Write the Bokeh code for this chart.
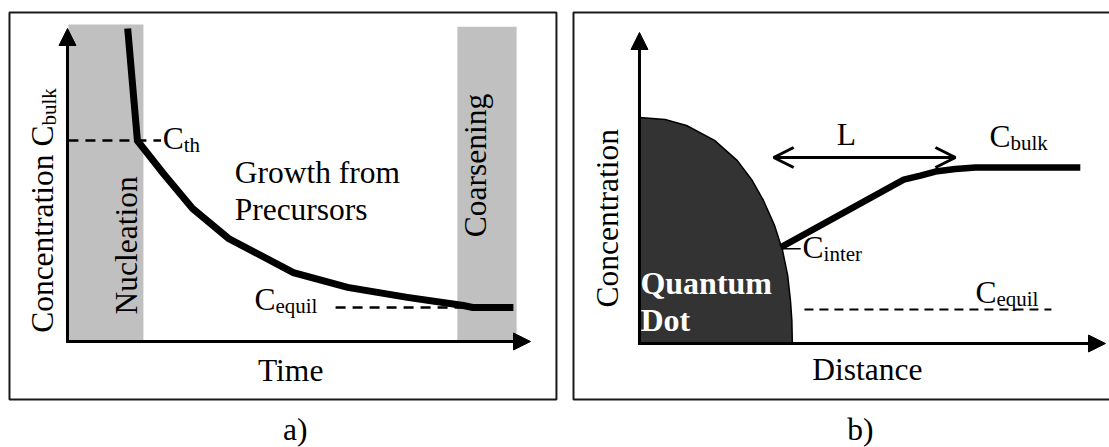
import math
from bokeh.plotting import figure
from bokeh.layouts import row
from bokeh.models import Range1d, Arrow, NormalHead, OpenHead, BoxAnnotation
from bokeh.embed import file_html
from bokeh.resources import INLINE
from bokeh.core.properties import value

# ---------------- data: panel a (concentration vs time) ----------------
time_curve = [1.30, 1.51, 2.07, 2.70, 3.48, 4.88, 6.05, 7.34, 8.55, 8.75, 9.63]
conc_curve = [10.0, 6.42, 5.37, 4.25, 3.29, 2.20, 1.73, 1.41, 1.15, 1.09, 1.09]
c_th = 6.42
c_equil_a = 1.09
phase_names = ["Nucleation", "Coarsening"]
phase_start = [0.02, 8.42]
phase_end = [1.64, 9.70]
phase_top = [10.13, 10.06]

# ---------------- data: panel b (concentration vs distance) ----------------
dot_d = [0.0, 0.55, 1.01, 1.61, 2.10, 2.42, 2.66, 2.90, 3.07, 3.18, 3.24, 3.27, 3.28]
dot_c = [7.27, 7.20, 7.01, 6.53, 5.88, 5.24, 4.60, 3.79, 2.99, 2.19, 1.38, 0.74, 0.0]
dist_curve = [3.03, 5.67, 6.03, 6.35, 6.78, 7.21, 9.46]
conc_b = [3.09, 5.27, 5.40, 5.53, 5.61, 5.66, 5.66]
c_equil_b = 1.09
L_start, L_end = 2.88, 6.78

FONT = "Liberation Serif"
MAIN = 31.5
SUB = 21
MID = 0.34  # distance from alphabetic baseline to text middle, in em


def make_fig(width, x0, x1, y0, y1):
    p = figure(width=width, height=447, x_range=Range1d(x0, x1),
               y_range=Range1d(y0, y1), output_backend="svg",
               toolbar_location=None, x_axis_location=None,
               y_axis_location=None, min_border=0, outline_line_color=None,
               background_fill_color="white", border_fill_color="white")
    p.grid.visible = False
    return p


def make_txt(p, sx, sy):
    # (x, y) is the alphabetic baseline position of the text
    def txt(x, y, s, size=MAIN, align="left", rotated=False, style="normal",
            color="black"):
        shift = MID * size
        if rotated:
            xx, yy, ang = x - shift / sx, y, math.pi / 2
        else:
            xx, yy, ang = x, y + shift / sy, 0.0
        p.text(x=[xx], y=[yy], text=[s], text_font=value(FONT),
               text_font_size=f"{size}px", text_align=align,
               text_baseline="middle", angle=ang, text_font_style=style,
               text_color=color)
    return txt


def axes(p, xtip, ytip, sx, sy):
    p.add_layout(Arrow(end=NormalHead(size=17, fill_color="black", line_color="black"),
                       x_start=0, y_start=-1.5 / sy, x_end=0, y_end=ytip,
                       line_width=3, line_color="black"))
    p.add_layout(Arrow(end=NormalHead(size=17, fill_color="black", line_color="black"),
                       x_start=-1.5 / sx, y_start=0, x_end=xtip, y_end=0,
                       line_width=3, line_color="black"))


def frame_box(p, **kw):
    p.add_layout(BoxAnnotation(fill_color=None, fill_alpha=0,
                               line_color="#1a1a1a", line_alpha=1.0,
                               line_width=2, **kw))


# ======================= panel a =======================
SXA, SYA = 46.3, 31.3
pa = make_fig(564, -1.447, 10.734, -3.387, 10.895)
frame_box(pa, left=-1.253, right=10.56, top=10.51, bottom=-1.853)
pa.quad(left=phase_start, right=phase_end, bottom=0, top=phase_top,
        fill_color="#c0c0c0", line_color=None)
pa.line([0.02, 2.02], [c_th, c_th], line_color="black", line_width=2.5,
        line_dash="10 7")
pa.line([5.79, 8.75], [c_equil_a, c_equil_a], line_color="black", line_width=2.5,
        line_dash="10 7")
pa.line(time_curve, conc_curve, line_color="black", line_width=7,
        line_join="miter")
axes(pa, 10.0, 10.0, SXA, SYA)

ta = make_txt(pa, SXA, SYA)
ta(2.51, 6.14, "C", align="right")
ta(2.51, 6.14 - 3 / SYA, "th", size=SUB)
ta(3.61, 5.05, "Growth from")
ta(3.61, 3.87, "Precursors")
ta(4.49, 0.99, "C", align="right")
ta(4.49, 0.99 - 3 / SYA, "equil", size=SUB)
ta(1.51, 3.07, phase_names[0], align="center", rotated=True)
ta(9.05, 5.62, phase_names[1], align="center", rotated=True)
ta(-0.30, 6.90, "Concentration C", align="right", rotated=True)
ta(-0.30 + 3 / SXA, 6.90, "bulk", size=SUB, rotated=True)
ta(4.82, -1.28, "Time", align="center")
ta(4.92, -3.16, "a)", align="center")

# ======================= panel b =======================
SXB, SYB = 46.6, 31.1
pb = make_fig(545, -1.609, 10.086, -3.344, 11.029)
frame_box(pb, left=-1.416, right=10.6, top=10.64, bottom=-1.80)
pb.patch(dot_d + [0.0], dot_c + [0.0], fill_color="#333333",
         line_color="black", line_width=1.5)
pb.line([3.54, 8.84], [c_equil_b, c_equil_b], line_color="black", line_width=2,
        line_dash="9 6")
pb.line([3.07, 3.46], [3.05, 3.05], line_color="black", line_width=1.5)
pb.line(dist_curve, conc_b, line_color="black", line_width=6.5,
        line_join="round")
pb.add_layout(Arrow(start=OpenHead(size=20, line_width=3, line_color="black"),
                    end=OpenHead(size=20, line_width=3, line_color="black"),
                    x_start=L_start, y_start=5.98, x_end=L_end, y_end=5.98,
                    line_width=3, line_color="black"))
axes(pb, 10.0, 10.0, SXB, SYB)

tb = make_txt(pb, SXB, SYB)
tb(4.44, 6.37, "L", align="center")
tb(7.96, 6.30, "C", align="right")
tb(7.96, 6.30 - 3 / SYB, "bulk", size=SUB)
tb(3.95, 2.73, "C", align="right")
tb(3.95, 2.73 - 3 / SYB, "inter", size=SUB)
tb(7.66, 1.29, "C", align="right")
tb(7.66, 1.29 - 3 / SYB, "equil", size=SUB)
tb(0.02, 1.61, "Quantum", size=32, style="bold", color="white")
tb(0.02, 0.42, "Dot", size=32, style="bold", color="white")
tb(-0.45, 4.03, "Concentration", align="center", rotated=True)
tb(4.89, -1.19, "Distance", align="center")
tb(4.74, -3.12, "b)", align="center")

layout = row(pa, pb)
open("out.html", "w").write(file_html(layout, INLINE))
